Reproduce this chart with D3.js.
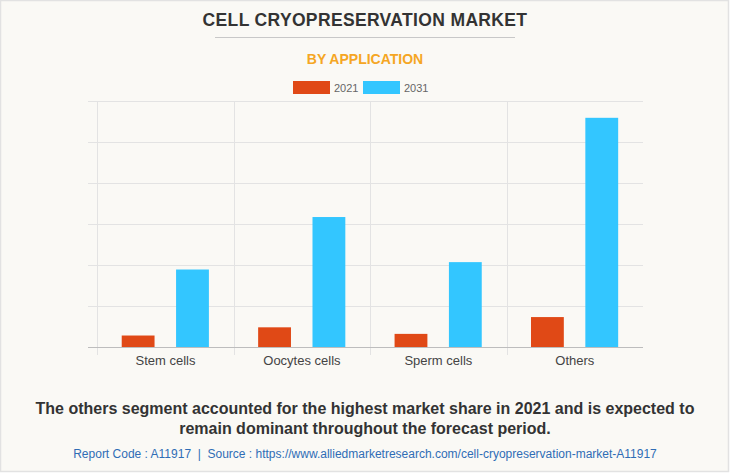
<!DOCTYPE html>
<html><head><meta charset="utf-8">
<script src="https://cdn.jsdelivr.net/npm/d3@7"></script>
<style>
html,body{margin:0;padding:0;background:#fff;}
svg{display:block;font-family:"Liberation Sans",Arial,sans-serif;}
</style></head><body>
<svg id="c" width="730" height="473"></svg>
<script>
const categories = ["Stem cells", "Oocytes cells", "Sperm cells", "Others"];
const seriesNames = ["2021", "2031"];
const values2021 = [0.28, 0.48, 0.32, 0.73];
const values2031 = [1.89, 3.17, 2.07, 5.59];
const yTicks = [0, 1, 2, 3, 4, 5, 6];
const colors = ["#e04916", "#33c6ff"];

const svg = d3.select("#c");
const W = 730, H = 473;
svg.append("rect").attr("x",0.5).attr("y",0.5).attr("width",W-2).attr("height",H-2)
  .attr("fill","#faf9f5").attr("stroke","#e2e2e2").attr("stroke-width",1.5);

// titles
svg.append("text").attr("x",365).attr("y",26).attr("text-anchor","middle")
  .attr("font-size",17.5).attr("font-weight","bold").attr("fill","#333")
  .attr("letter-spacing",0.35).text("CELL CRYOPRESERVATION MARKET");
svg.append("line").attr("x1",215).attr("x2",515).attr("y1",37.5).attr("y2",37.5)
  .attr("stroke","#c8c8c8").attr("stroke-width",1);
svg.append("text").attr("x",365).attr("y",64).attr("text-anchor","middle")
  .attr("font-size",14).attr("font-weight","bold").attr("fill","#f5a623")
  .text("BY APPLICATION");

// legend
const leg = svg.append("g");
const legX = [293, 363];
seriesNames.forEach((s,i)=>{
  leg.append("rect").attr("x",legX[i]).attr("y",81).attr("width",37).attr("height",13)
    .attr("fill",colors[i]);
  leg.append("text").attr("x",legX[i]+41).attr("y",91.5).attr("font-size",11)
    .attr("fill","#666").text(s);
});

// scales
const x0 = d3.scaleBand().domain(categories).range([97.3, 643]).paddingInner(0).paddingOuter(0);
const bw = x0.bandwidth();
const x1 = d3.scaleBand().domain(seriesNames).range([bw*0.179, bw*0.818]).paddingInner(0.396).paddingOuter(0);
const y = d3.scaleLinear().domain([0, 6]).range([347, 101]);

// horizontal grid
svg.append("g").selectAll("line").data(yTicks.slice(1)).join("line")
  .attr("x1",88).attr("x2",643).attr("y1",d=>Math.round(y(d))+0.5).attr("y2",d=>Math.round(y(d))+0.5)
  .attr("stroke","#e3e3e3").attr("stroke-width",1);
// vertical grid
const vx = categories.map(c=>x0(c));
svg.append("g").selectAll("line").data(vx).join("line")
  .attr("x1",d=>Math.round(d)+0.5).attr("x2",d=>Math.round(d)+0.5).attr("y1",101).attr("y2",355)
  .attr("stroke","#e3e3e3").attr("stroke-width",1);

// bars
const data = categories.map((c,i)=>({c, v:[values2021[i], values2031[i]]}));
const g = svg.append("g");
data.forEach(d=>{
  seriesNames.forEach((s,j)=>{
    g.append("rect").attr("x",x0(d.c)+x1(s)).attr("width",x1.bandwidth())
      .attr("y",y(d.v[j])).attr("height",y(0)-y(d.v[j]))
      .attr("fill",colors[j]);
  });
});

// baseline axis
svg.append("line").attr("x1",88).attr("x2",643).attr("y1",347.5).attr("y2",347.5)
  .attr("stroke","#bdbdbd").attr("stroke-width",1);
// category labels
svg.append("g").selectAll("text").data(categories).join("text")
  .attr("x",d=>x0(d)+bw/2).attr("y",365).attr("text-anchor","middle")
  .attr("font-size",13).attr("fill","#444").text(d=>d);

// footer
const ft = svg.append("text").attr("text-anchor","middle").attr("font-size",16)
  .attr("font-weight","bold").attr("fill","#333");
ft.append("tspan").attr("x",365).attr("y",414).text("The others segment accounted for the highest market share in 2021 and is expected to");
ft.append("tspan").attr("x",365).attr("y",434).text("remain dominant throughout the forecast period.");
svg.append("text").attr("x",365).attr("y",458).attr("text-anchor","middle").attr("font-size",12)
  .style("white-space","pre")
  .attr("fill","#2f6db5").text("Report Code : A11917  |  Source : https://www.alliedmarketresearch.com/cell-cryopreservation-market-A11917");
</script>
</body></html>
